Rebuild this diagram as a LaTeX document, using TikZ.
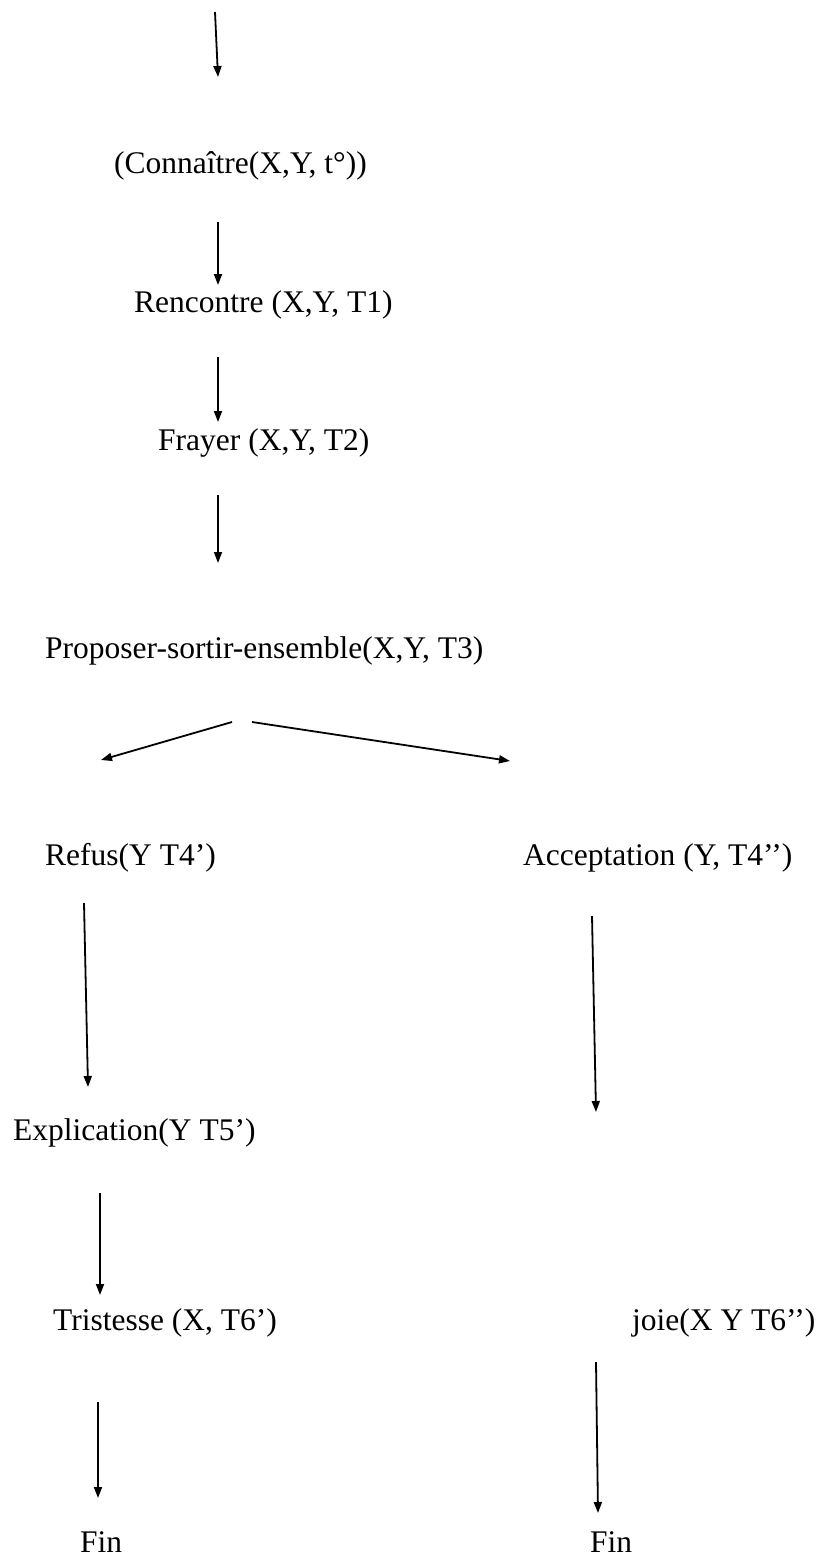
\documentclass[tikz,border=0pt]{standalone}
\usepackage{fontspec}
\setmainfont{Liberation Serif}
\usepackage{tikz}
\usetikzlibrary{arrows.meta}

\begin{document}
\begin{tikzpicture}[x=1pt, y=-1pt,
		lbl/.style={anchor=base west, inner sep=0pt, font=\fontsize{31.5}{36}\selectfont},
		flow/.style={line width=1.8pt, -{Triangle[length=11pt, width=8pt]}}]
			%%%%% FRAME %%%%%
			\useasboundingbox (0, 0) rectangle (829, 1560);
			
			%%%%% TEXTS %%%%%
			\node[lbl] (conn) at (114, 173) {(Connaître(X,Y, t°))};
			\node[lbl] (renc) at (134, 312) {Rencontre (X,Y, T1)};
			\node[lbl] (fray) at (158, 450) {Frayer (X,Y, T2)};
			\node[lbl] (prop) at (45, 658) {Proposer-sortir-ensemble(X,Y, T3)};
			
			\node[lbl] (refus) at (45, 865) {Refus(Y T4’)};
			\node[lbl] (accept) at (523, 865) {Acceptation (Y, T4’’)};
			\node[lbl] (expl) at (13, 1140) {Explication(Y T5’)};
			\node[lbl] (trist) at (53, 1330) {Tristesse (X, T6’)};
			\node[lbl] (joie) at (632, 1330) {joie(X Y T6’’)};
			\node[lbl] (finA) at (80, 1552) {Fin};
			\node[lbl] (finB) at (590, 1552) {Fin};
			
			%%%%% ARROW ENDS %%%%%
			\coordinate (t0) at (215, 12);    \coordinate (t1) at (218, 77);
			\coordinate (c0) at (218, 222);   \coordinate (c1) at (218, 285);
			\coordinate (r0) at (218, 357);   \coordinate (r1) at (218, 422);
			\coordinate (f0) at (218, 495);   \coordinate (f1) at (218, 563);
			\coordinate (pl0) at (232, 722);  \coordinate (pl1) at (101, 760);
			\coordinate (pr0) at (252, 722);  \coordinate (pr1) at (510, 761);
			\coordinate (rf0) at (84, 903);   \coordinate (rf1) at (88, 1087);
			\coordinate (ac0) at (592, 916);  \coordinate (ac1) at (596, 1112);
			\coordinate (ex0) at (100, 1193); \coordinate (ex1) at (100, 1295);
			\coordinate (tr0) at (98, 1402);  \coordinate (tr1) at (98, 1498);
			\coordinate (jo0) at (596, 1362); \coordinate (jo1) at (598, 1513);
			
			%%%%% ARROWS %%%%%
			\draw[flow] (t0) -- (t1);
			\draw[flow] (c0) -- (c1);
			\draw[flow] (r0) -- (r1);
			\draw[flow] (f0) -- (f1);
			
			\draw[flow] (pl0) -- (pl1);
			\draw[flow] (pr0) -- (pr1);
			
			\draw[flow] (rf0) -- (rf1);
			\draw[flow] (ac0) -- (ac1);
			\draw[flow] (ex0) -- (ex1);
			\draw[flow] (tr0) -- (tr1);
			\draw[flow] (jo0) -- (jo1);
			
		\end{tikzpicture}
\end{document}
